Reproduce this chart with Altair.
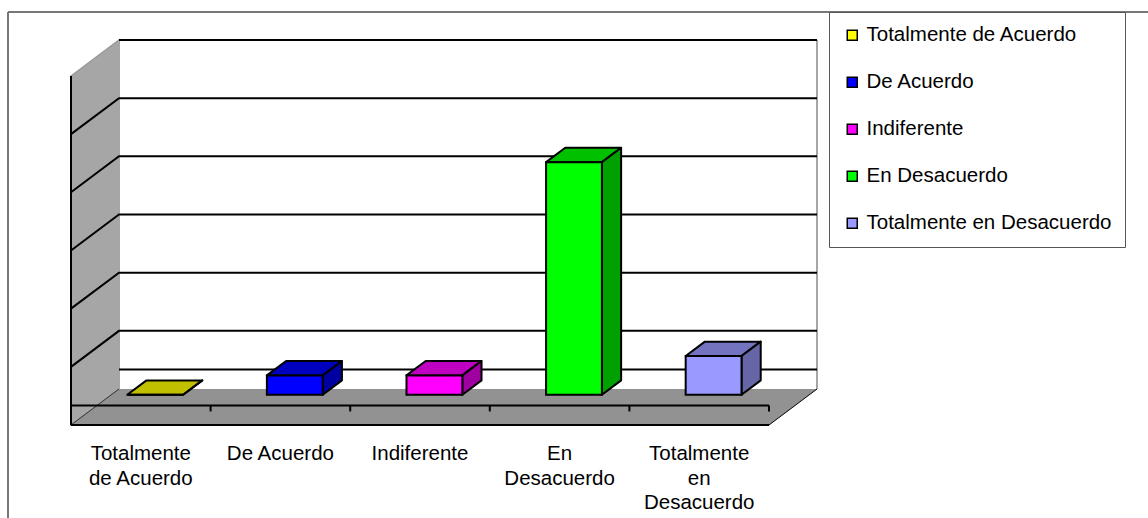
import altair as alt
import pandas as pd

# Survey answers and their counts
categories = ["Totalmente de Acuerdo", "De Acuerdo", "Indiferente", "En Desacuerdo", "Totalmente en Desacuerdo"]
axis_labels = ["Totalmente\nde Acuerdo", "De Acuerdo", "Indiferente", "En\nDesacuerdo", "Totalmente\nen\nDesacuerdo"]
values = [0, 1, 1, 12, 2]

# Face colours of each box
front_colors = ["#ffff00", "#0000ff", "#ff00ff", "#00ff00", "#9999ff"]
top_colors = ["#c0c000", "#0000c0", "#c000c0", "#00c000", "#7373c0"]
side_colors = ["#a0a000", "#0000a0", "#a000a0", "#00a000", "#6666a6"]

# Value axis
y_ticks = [-1, 2, 5, 8, 11, 14, 17]
y_min, y_max = -1, 17
n = len(categories)

# Oblique projection: how far the full depth shifts a point, in axis units
DEPTH_X = 48 / 139.6
DEPTH_Y = 36 / 19.39
# Position of the boxes inside one category slot and inside the depth
GAP, BAR_W = 0.3, 0.4
Z0, Z1 = 0.3, 0.7

x_enc = alt.X("x:Q", axis=None, scale=alt.Scale(domain=[0, 746 / 139.6], nice=False, zero=False))
y_scale = alt.Scale(domain=[-1, -1 + 385 / 19.39], nice=False, zero=False)
y_enc = alt.Y("y:Q", axis=None, scale=y_scale, stack=None)


def vertical_face(rows, fill=None, **kw):
    return alt.Chart(pd.DataFrame(rows)).mark_area(orient="vertical", **kw).encode(
        x=x_enc, y=y_enc, y2="y2:Q", detail="face:N",
        fill=alt.Fill("fill:N", scale=None),
    )


def horizontal_face(rows, **kw):
    return alt.Chart(pd.DataFrame(rows)).mark_area(orient="horizontal", **kw).encode(
        y=y_enc, x=x_enc, x2="x2:Q", detail="face:N",
        fill=alt.Fill("fill:N", scale=None),
    )


def polyline(rows, **kw):
    return alt.Chart(pd.DataFrame(rows)).mark_line(**kw).encode(
        x=x_enc, y=y_enc, detail="line:N", order="step:Q",
    )


# Side wall and floor of the box scene
wall = vertical_face([
    dict(face="wall", fill="#a6a6a6", x=0, y=y_max, y2=y_min),
    dict(face="wall", fill="#a6a6a6", x=DEPTH_X, y=y_max + DEPTH_Y, y2=y_min + DEPTH_Y),
], stroke="#9a9a9a", strokeWidth=1.5)
floor = horizontal_face([
    dict(face="floor", fill="#929292", y=y_min, x=0, x2=n),
    dict(face="floor", fill="#929292", y=y_min + DEPTH_Y, x=DEPTH_X, x2=n + DEPTH_X),
])

# Back wall edges
edge_rows = []
for k, xv in enumerate([DEPTH_X, n + DEPTH_X]):
    edge_rows += [dict(line=f"e{k}", step=0, x=xv, y=y_min + DEPTH_Y),
                  dict(line=f"e{k}", step=1, x=xv, y=y_max + DEPTH_Y)]
edges = polyline(edge_rows, color="#a6a6a6", strokeWidth=2)

# Gridlines run across the side wall and along the back
grid_rows = []
for v in y_ticks[1:-1]:
    grid_rows += [dict(line=f"g{v}", step=0, x=0, y=v),
                  dict(line=f"g{v}", step=1, x=DEPTH_X, y=v + DEPTH_Y),
                  dict(line=f"g{v}", step=2, x=n + DEPTH_X, y=v + DEPTH_Y)]
for v in [0, y_max]:
    grid_rows += [dict(line=f"g{v}", step=1, x=DEPTH_X, y=v + DEPTH_Y),
                  dict(line=f"g{v}", step=2, x=n + DEPTH_X, y=v + DEPTH_Y)]
grid = polyline(grid_rows, color="black", strokeWidth=2)

# Floor outline pieces
wall_foot = polyline([dict(line="a", step=0, x=0, y=y_min),
                      dict(line="a", step=1, x=DEPTH_X, y=y_min + DEPTH_Y)],
                     color="#333333", strokeWidth=1)
floor_side = polyline([dict(line="b", step=0, x=n, y=y_min),
                       dict(line="b", step=1, x=n + DEPTH_X, y=y_min + DEPTH_Y)],
                      color="black", strokeWidth=1)

# Front axis lines
axis_rows = [dict(line="front", step=0, x=0, y=y_min), dict(line="front", step=1, x=n, y=y_min),
             dict(line="zero", step=0, x=0, y=0), dict(line="zero", step=1, x=n, y=0),
             dict(line="spine", step=0, x=0, y=y_min), dict(line="spine", step=1, x=0, y=y_max)]
for i in range(1, n + 1):
    axis_rows += [dict(line=f"t{i}", step=0, x=i, y=0), dict(line=f"t{i}", step=1, x=i, y=-0.3)]
axis_lines = polyline(axis_rows, color="black", strokeWidth=2)

# Value axis ticks and labels
y_axis = alt.Chart(pd.DataFrame({"y": y_ticks})).mark_point(opacity=0).encode(
    x=alt.value(0),
    y=alt.Y("y:Q", scale=y_scale, axis=alt.Axis(
        values=y_ticks, title=None, grid=False, domain=False, tickSize=3, tickColor="black",
        tickWidth=1.5, labelPadding=7, labelFont="Liberation Sans", labelFontSize=10, labelColor="black",
    )),
)

# Boxes: one top face, one side face and one front face per category
top_rows, side_rows, front_rows = [], [], []
for i, (cat, v) in enumerate(zip(categories, values)):
    x0 = i + GAP
    x1 = x0 + BAR_W
    top_rows += [dict(face=f"t{i}", fill=top_colors[i], y=v + Z0 * DEPTH_Y,
                      x=x0 + Z0 * DEPTH_X, x2=x1 + Z0 * DEPTH_X),
                 dict(face=f"t{i}", fill=top_colors[i], y=v + Z1 * DEPTH_Y,
                      x=x0 + Z1 * DEPTH_X, x2=x1 + Z1 * DEPTH_X)]
    side_rows += [dict(face=f"s{i}", fill=side_colors[i], x=x1 + Z0 * DEPTH_X,
                       y=v + Z0 * DEPTH_Y, y2=Z0 * DEPTH_Y),
                  dict(face=f"s{i}", fill=side_colors[i], x=x1 + Z1 * DEPTH_X,
                       y=v + Z1 * DEPTH_Y, y2=Z1 * DEPTH_Y)]
    front_rows.append(dict(cat=cat, x=x0 + Z0 * DEPTH_X, x2=x1 + Z0 * DEPTH_X,
                           y=v + Z0 * DEPTH_Y, y2=Z0 * DEPTH_Y))

tops = horizontal_face(top_rows, stroke="black", strokeWidth=2, strokeJoin="round")
sides = vertical_face(side_rows, stroke="black", strokeWidth=2, strokeJoin="round")
fronts = alt.Chart(pd.DataFrame(front_rows)).mark_rect(stroke="black", strokeWidth=2).encode(
    x=x_enc, x2="x2:Q", y=y_enc, y2="y2:Q",
    color=alt.Color("cat:N", sort=categories,
                    scale=alt.Scale(domain=categories, range=front_colors),
                    legend=alt.Legend(
                        title=None, orient="none", legendX=758, legendY=-28,
                        fillColor="white", strokeColor="#555555", padding=13,
                        symbolType="square", symbolSize=100, symbolStrokeColor="black",
                        symbolStrokeWidth=1.5, labelFont="Liberation Sans", labelFontSize=20.5,
                        labelColor="black", labelLimit=400, labelOffset=4, rowPadding=26,
                    )),
)

# Category captions under the floor
captions = alt.Chart(pd.DataFrame({
    "x": [i + 0.5 for i in range(n)], "y": [-2.0] * n, "label": axis_labels,
})).mark_text(baseline="top", align="center", lineBreak="\n", lineHeight=24.5,
              font="Liberation Sans", fontSize=20.5, color="black").encode(
    x=x_enc, y=y_enc, text="label:N",
)

# Outer frame of the figure
frame_left = alt.Chart(pd.DataFrame({"a": [0]})).mark_rule(color="#777777", strokeWidth=2).encode(
    x=alt.value(-63), y=alt.value(-28), y2=alt.value(478))
frame_top = alt.Chart(pd.DataFrame({"a": [0]})).mark_rule(color="#777777", strokeWidth=2).encode(
    x=alt.value(-63), x2=alt.value(1077), y=alt.value(-28))

chart = alt.layer(
    frame_left, frame_top, wall, floor, edges, grid, wall_foot, floor_side,
    axis_lines, y_axis, tops, sides, fronts, captions,
).properties(
    width=746, height=385,
    padding={"left": 71, "top": 40, "right": 331, "bottom": 93},
    autosize=alt.AutoSizeParams(type="none"),
    background="white",
).configure_view(stroke=None)

chart.save("out.html", embed_options={"renderer": "svg", "actions": False})
